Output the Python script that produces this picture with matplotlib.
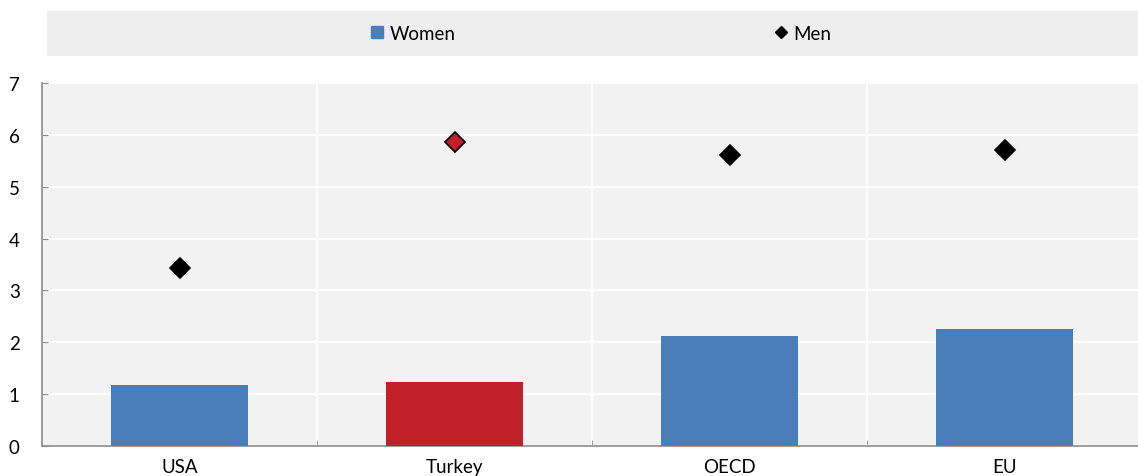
import matplotlib
matplotlib.use("Agg")
import matplotlib.pyplot as plt
from matplotlib.patches import Rectangle
from matplotlib.lines import Line2D

plt.rcParams['font.family'] = ['Lato', 'DejaVu Sans']

categories = ["USA", "Turkey", "OECD", "EU"]
women = [1.18, 1.23, 2.12, 2.26]
men = [3.43, 5.86, 5.61, 5.71]
highlight = "Turkey"

blue = "#4A7EBB"
red = "#C0202A"

fig = plt.figure(figsize=(11.38, 4.77), dpi=100)
ax = fig.add_axes([42 / 1138, 1 - 447 / 477, 1100 / 1138, 363 / 477])
ax.set_facecolor("#F2F2F2")

x = list(range(len(categories)))
bar_colors = [red if c == highlight else blue for c in categories]
ax.bar(x, women, width=0.5, color=bar_colors, zorder=3)
for xi, c, v in zip(x, categories, men):
    fc = red if c == highlight else "black"
    ax.plot(xi, v, marker="D", markersize=10.5, markerfacecolor=fc,
            markeredgecolor="black", markeredgewidth=1.2, linestyle="none", zorder=4)

ax.set_xlim(-0.5, len(categories) - 0.5)
ax.set_ylim(0, 7)
ax.set_yticks(range(0, 8))
ax.set_xticks(x)
ax.set_xticklabels(categories)
ax.set_xticks([i + 0.5 for i in x[:-1]], minor=True)

ax.grid(axis="y", color="white", linewidth=1.5, zorder=1)
ax.grid(axis="x", which="minor", color="white", linewidth=1.5, zorder=1)

for s in ["top", "right"]:
    ax.spines[s].set_visible(False)
for s in ["left", "bottom"]:
    ax.spines[s].set_color("#8C8C8C")
    ax.spines[s].set_linewidth(1.2)

ax.tick_params(axis="y", length=4, direction="in", color="#8C8C8C", labelsize=13.5, pad=16)
ax.tick_params(axis="x", which="major", length=0, labelsize=13.5, pad=9)
ax.tick_params(axis="x", which="minor", length=4, direction="in", color="#8C8C8C")

# legend band
fig.patches.append(Rectangle((47 / 1138, 1 - 57 / 477), 1 - 47 / 1138, 45 / 477,
                             transform=fig.transFigure, facecolor="#EEEEEE",
                             edgecolor="none", zorder=0))
handles = [
    Line2D([], [], marker="s", color=blue, linestyle="none", markersize=9),
    Line2D([], [], marker="D", color="black", linestyle="none", markersize=6),
]
fig.legend(handles, ["Women", "Men"], loc="center", ncol=2, frameon=False,
           bbox_to_anchor=(601 / 1138, 1 - 34 / 477), fontsize=13.5,
           handlelength=0.7, handletextpad=0.3, columnspacing=17.0)

fig.savefig("out.png", dpi=100)
